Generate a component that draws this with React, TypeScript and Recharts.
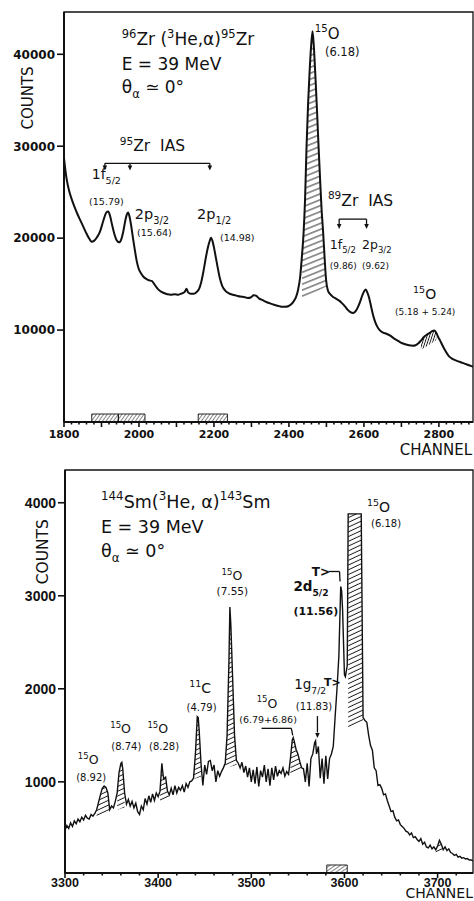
import React from 'react';
import {
  ComposedChart,
  Line,
  Area,
  XAxis,
  YAxis,
  ReferenceArea,
  ReferenceLine,
  ReferenceDot,
} from 'recharts';

const FONT = '"DejaVu Sans", "Liberation Sans", sans-serif';
const FONT_TALL = '"Liberation Sans", "DejaVu Sans", sans-serif';
const INK = '#111';

// ---------------- Top panel: 96Zr(3He,α)95Zr ----------------
// [channel, counts]
const zrSpectrum: [number, number][] = [
  [1800, 28700], [1804, 27300], [1808, 26200], [1814, 25100], [1820, 24300],
  [1828, 23400], [1836, 22600], [1844, 21900], [1852, 21200], [1860, 20500],
  [1868, 19900], [1874, 19600], [1880, 19700], [1888, 20100], [1896, 20700],
  [1902, 21500], [1908, 22300], [1913, 22800], [1918, 22900], [1923, 22400],
  [1928, 21500], [1934, 20500], [1940, 19800], [1947, 19550], [1953, 19900],
  [1958, 20700], [1963, 21800], [1967, 22500], [1971, 22800], [1975, 22300],
  [1979, 21400], [1984, 20000], [1989, 18700], [1994, 17500], [1999, 16700],
  [2005, 16200], [2012, 15800], [2020, 15550], [2028, 15400], [2034, 15350],
  [2040, 15050], [2046, 14700], [2052, 14400], [2060, 14150], [2068, 14000],
  [2076, 13900], [2085, 13850], [2095, 13900], [2105, 13850], [2115, 14000],
  [2122, 14150], [2127, 14500], [2131, 14100], [2138, 13950], [2146, 13950],
  [2154, 14150], [2160, 14450], [2166, 15200], [2172, 16400], [2178, 17800],
  [2184, 19000], [2188, 19600], [2192, 20050], [2196, 19700], [2200, 19000],
  [2205, 17900], [2210, 16800], [2216, 15600], [2222, 14800], [2230, 14300],
  [2240, 14000], [2250, 13850], [2260, 13750], [2270, 13650], [2280, 13600],
  [2290, 13500], [2298, 13550], [2306, 13800], [2312, 13750], [2320, 13450],
  [2330, 13250], [2340, 13050], [2350, 12900], [2360, 12750], [2370, 12650],
  [2380, 12550], [2390, 12550], [2398, 12600], [2406, 12800], [2412, 13100],
  [2418, 13500], [2424, 14300], [2430, 15800], [2435, 18200], [2439, 20500],
  [2443, 24200], [2447, 30000], [2451, 34500], [2455, 38000], [2459, 40800],
  [2463, 42500], [2467, 40500], [2471, 37300], [2475, 33800], [2479, 30000],
  [2483, 26500], [2487, 23200], [2491, 20800], [2495, 18000], [2499, 15500],
  [2504, 14300], [2510, 13900], [2518, 13600], [2526, 13400], [2534, 13200],
  [2542, 12900], [2550, 12550], [2557, 12200], [2564, 11950], [2571, 11850],
  [2578, 12050], [2584, 12500], [2590, 13100], [2596, 13800], [2601, 14250],
  [2605, 14400], [2609, 14100], [2614, 13500], [2619, 12600], [2624, 11700],
  [2630, 10900], [2636, 10350], [2642, 10000], [2650, 9750], [2660, 9600],
  [2670, 9400], [2680, 9100], [2690, 8850], [2700, 8600], [2710, 8450],
  [2720, 8350], [2730, 8300], [2738, 8350], [2745, 8550], [2752, 8850],
  [2760, 9250], [2768, 9500], [2776, 9700], [2783, 9900], [2788, 9950],
  [2793, 9700], [2798, 9250], [2804, 8800], [2810, 8300], [2818, 7700],
  [2826, 7200], [2835, 6900], [2845, 6700], [2855, 6550], [2865, 6400],
  [2875, 6250], [2885, 6100], [2891, 6000],
];

// hatched regions: [channel, lower edge]
const zrHatchO618: [number, number][] = [
  [2435, 13450], [2439, 13530], [2443, 13610], [2447, 13690], [2451, 13760],
  [2455, 13840], [2459, 13920], [2463, 13990], [2467, 14070], [2471, 14150],
  [2475, 14230], [2479, 14300], [2483, 14380], [2487, 14460], [2491, 14540],
  [2495, 14620], [2499, 14700],
];
const zrHatchO518: [number, number][] = [
  [2752, 7850], [2760, 8050], [2768, 8250], [2776, 8450], [2783, 8650],
  [2788, 8780], [2793, 8900],
];
// hatched boxes on the axis: [from, to]
const zrAxisBoxes: [number, number][] = [[1874, 1945], [1945, 2016], [2158, 2236]];

const zrXLabels = [1800, 2000, 2200, 2400, 2600, 2800];
const zrYLabels = [10000, 20000, 30000, 40000];

// ---------------- Bottom panel: 144Sm(3He,α)143Sm ----------------
const smSpectrum: [number, number][] = [
  [3300, 480], [3302, 530], [3304, 500], [3306, 560], [3308, 520], [3310, 580],
  [3312, 550], [3314, 600], [3316, 570], [3318, 620], [3320, 590], [3322, 640],
  [3324, 610], [3326, 600], [3328, 650], [3330, 630], [3332, 660], [3334, 700],
  [3336, 780], [3338, 860], [3340, 930], [3342, 955], [3344, 940], [3346, 880],
  [3348, 700], [3350, 740], [3352, 720], [3354, 790], [3356, 880], [3358, 1100],
  [3360, 1200], [3361, 1210], [3362, 1140], [3364, 880], [3366, 760], [3368, 810],
  [3370, 740], [3372, 790], [3374, 720], [3376, 770], [3378, 680], [3380, 650],
  [3382, 740], [3384, 700], [3386, 820], [3388, 760], [3390, 850], [3392, 780],
  [3394, 870], [3396, 800], [3398, 880], [3400, 840], [3402, 900], [3404, 1200],
  [3405, 1100], [3406, 1030], [3408, 1050], [3410, 900], [3412, 860], [3414, 930],
  [3416, 860], [3418, 960], [3420, 880], [3422, 940], [3424, 910], [3426, 960],
  [3428, 890], [3430, 980], [3432, 940], [3434, 1000], [3436, 1010], [3438, 1040],
  [3440, 1300], [3442, 1700], [3443, 1690], [3444, 1560], [3446, 1200], [3448, 960],
  [3450, 1180], [3452, 1080], [3454, 1220], [3456, 1230], [3458, 1120], [3460, 1180],
  [3462, 1000], [3464, 1120], [3466, 1060], [3468, 1110], [3470, 1150], [3472, 1200],
  [3474, 1500], [3476, 2300], [3477, 2880], [3478, 2700], [3480, 2100], [3482, 1500],
  [3484, 1230], [3486, 1200], [3488, 1150], [3490, 1210], [3492, 1100], [3494, 1170],
  [3496, 1050], [3498, 1150], [3500, 1000], [3502, 1130], [3504, 980], [3506, 1160],
  [3508, 950], [3510, 1120], [3512, 1050], [3514, 1180], [3516, 1000], [3518, 1140],
  [3520, 960], [3522, 1150], [3524, 1020], [3526, 1170], [3528, 1060], [3530, 1120],
  [3532, 1090], [3534, 1150], [3536, 1060], [3538, 1110], [3540, 1080], [3542, 1250],
  [3544, 1450], [3545, 1475], [3546, 1440], [3548, 1350], [3550, 1300], [3552, 1220],
  [3554, 1150], [3556, 1140], [3558, 1000], [3560, 1200], [3562, 950], [3564, 1250],
  [3566, 1300], [3568, 1420], [3569, 1440], [3570, 1300], [3572, 1380], [3574, 1040],
  [3576, 1250], [3578, 980], [3580, 1280], [3582, 1030], [3584, 1250], [3586, 1300],
  [3588, 1380], [3590, 1700], [3592, 2000], [3594, 2350], [3596, 3100], [3597, 3050],
  [3598, 2850], [3600, 2150], [3601, 2130], [3603, 2250], [3604, 3880], [3606, 3880],
  [3608, 3880], [3610, 3880], [3612, 3880], [3614, 3880], [3616, 3880], [3618, 3880],
  [3620, 1690], [3622, 1660], [3624, 1640], [3626, 1500], [3628, 1390], [3630, 1340],
  [3632, 1150], [3634, 1120], [3636, 960], [3638, 970], [3640, 930], [3642, 860],
  [3644, 870], [3646, 800], [3648, 740], [3650, 680], [3652, 690], [3654, 620],
  [3656, 580], [3658, 590], [3660, 540], [3662, 520], [3664, 500], [3666, 470],
  [3668, 460], [3670, 430], [3672, 450], [3674, 400], [3676, 410], [3678, 380],
  [3680, 360], [3682, 390], [3684, 330], [3686, 350], [3688, 300], [3690, 290],
  [3692, 320], [3694, 280], [3696, 300], [3698, 270], [3700, 310], [3702, 370],
  [3704, 330], [3706, 270], [3708, 300], [3710, 260], [3712, 280], [3714, 240],
  [3716, 230], [3718, 210], [3720, 220], [3722, 190], [3724, 200], [3726, 180],
  [3728, 185], [3730, 170], [3732, 175], [3734, 160], [3736, 160], [3738, 150],
];

const smHatch892: [number, number][] = [
  [3334, 620], [3336, 628], [3338, 636], [3340, 644], [3342, 651], [3344, 658],
  [3346, 664], [3348, 671],
];
const smHatch874: [number, number][] = [
  [3356, 700], [3358, 706], [3360, 713], [3361, 716], [3362, 719], [3364, 725],
];
const smHatch828: [number, number][] = [
  [3402, 783], [3404, 793], [3405, 797], [3406, 802], [3408, 812], [3410, 822],
  [3412, 832],
];
const smHatch479: [number, number][] = [
  [3438, 1028], [3440, 1035], [3442, 1042], [3443, 1045], [3444, 1049], [3446, 1056],
];
const smHatch755: [number, number][] = [
  [3472, 1150], [3474, 1155], [3476, 1160], [3477, 1162], [3478, 1165], [3480, 1170],
  [3482, 1175], [3484, 1180],
];
const smHatch679: [number, number][] = [
  [3542, 1063], [3544, 1073], [3545, 1078], [3546, 1083], [3548, 1093], [3550, 1103],
  [3552, 1114], [3554, 1124], [3556, 1135],
];
const smHatch618: [number, number][] = [
  [3604, 1560], [3606, 1572], [3608, 1584], [3610, 1596], [3612, 1608], [3614, 1620],
  [3616, 1632], [3618, 1644], [3620, 1656],
];
const smHatch3702: [number, number][] = [
  [3698, 235], [3700, 242], [3702, 250], [3704, 256], [3706, 262],
];
const smAxisBoxes: [number, number][] = [[3581, 3603]];

const smXLabels = [3300, 3400, 3500, 3600, 3700];
const smYLabels = [1000, 2000, 3000, 4000];

// ---------------- annotations ----------------
type Seg = [string, 'n' | 'sup' | 'sub'];
interface Note { x: number; y: number; fs: number; segs: Seg[]; bold?: boolean }

const zrNotes: Note[] = [
  { x: 1954, y: 41030, fs: 17, segs: [['96', 'sup'], ['Zr (', 'n'], ['3', 'sup'], ['He,α)', 'n'], ['95', 'sup'], ['Zr', 'n']] },
  { x: 1954, y: 38320, fs: 17, segs: [['E = 39 MeV', 'n']] },
  { x: 1954, y: 35785, fs: 17, segs: [['θ', 'n'], ['α', 'sub'], [' ≃ 0°', 'n']] },
  { x: 1949, y: 29470, fs: 15.5, segs: [['95', 'sup'], ['Zr  IAS', 'n']] },
  { x: 1874, y: 26430, fs: 14, segs: [['1f', 'n'], ['5/2', 'sub']] },
  { x: 1867, y: 23620, fs: 9.5, segs: [['(15.79)', 'n']] },
  { x: 1989, y: 22070, fs: 14.5, segs: [['2p', 'n'], ['3/2', 'sub']] },
  { x: 1995, y: 20260, fs: 9.5, segs: [['(15.64)', 'n']] },
  { x: 2155, y: 22070, fs: 14.5, segs: [['2p', 'n'], ['1/2', 'sub']] },
  { x: 2216, y: 19720, fs: 9.5, segs: [['(14.98)', 'n']] },
  { x: 2469, y: 41710, fs: 15, segs: [['15', 'sup'], ['O', 'n']] },
  { x: 2496, y: 39760, fs: 11.5, segs: [['(6.18)', 'n']] },
  { x: 2504, y: 23510, fs: 15.5, segs: [['89', 'sup'], ['Zr  IAS', 'n']] },
  { x: 2509, y: 18850, fs: 12.5, segs: [['1f', 'n'], ['5/2', 'sub']] },
  { x: 2595, y: 18850, fs: 12.5, segs: [['2p', 'n'], ['3/2', 'sub']] },
  { x: 2509, y: 16680, fs: 9, segs: [['(9.86)', 'n']] },
  { x: 2595, y: 16680, fs: 9, segs: [['(9.62)', 'n']] },
  { x: 2731, y: 13430, fs: 14, segs: [['15', 'sup'], ['O', 'n']] },
  { x: 2683, y: 11590, fs: 9, segs: [['(5.18 + 5.24)', 'n']] },
];
const zrLines: [number, number][][] = [
  [[1909, 28140], [2189, 28140]],
  [[1909, 28140], [1909, 27700]],
  [[1976, 28140], [1976, 27700]],
  [[2189, 28140], [2189, 27700]],
  [[2534, 22070], [2607, 22070]],
  [[2534, 22070], [2534, 21400]],
  [[2607, 22070], [2607, 21400]],
];
const zrArrows: [number, number][] = [[1909, 27350], [1976, 27350], [2189, 27350], [2534, 20990], [2607, 20990]];

const smNotes: Note[] = [
  { x: 3338.6, y: 3947, fs: 17.5, segs: [['144', 'sup'], ['Sm', 'n'], ['(', 'n'], ['3', 'sup'], ['He, α)', 'n'], ['143', 'sup'], ['Sm', 'n']] },
  { x: 3338.6, y: 3679, fs: 17.5, segs: [['E = 39 MeV', 'n']] },
  { x: 3338.6, y: 3422, fs: 17.5, segs: [['θ', 'n'], ['α', 'sub'], [' ≃ 0°', 'n']] },
  { x: 3313.8, y: 1189, fs: 12.5, segs: [['15', 'sup'], ['O', 'n']] },
  { x: 3312, y: 1010, fs: 10, segs: [['(8.92)', 'n']] },
  { x: 3348.6, y: 1521, fs: 12.5, segs: [['15', 'sup'], ['O', 'n']] },
  { x: 3349.7, y: 1339, fs: 10, segs: [['(8.74)', 'n']] },
  { x: 3388.5, y: 1521, fs: 12.5, segs: [['15', 'sup'], ['O', 'n']] },
  { x: 3390.2, y: 1339, fs: 10, segs: [['(8.28)', 'n']] },
  { x: 3433.3, y: 1957, fs: 14, segs: [['11', 'sup'], ['C', 'n']] },
  { x: 3430.5, y: 1760, fs: 10, segs: [['(4.79)', 'n']] },
  { x: 3468.1, y: 3172, fs: 12.5, segs: [['15', 'sup'], ['O', 'n']] },
  { x: 3462.7, y: 3011, fs: 10.5, segs: [['(7.55)', 'n']] },
  { x: 3505.8, y: 1797, fs: 12.5, segs: [['15', 'sup'], ['O', 'n']] },
  { x: 3487, y: 1636, fs: 9.5, segs: [['(6.79+6.86)', 'n']] },
  { x: 3546, y: 1993, fs: 13.5, segs: [['1g', 'n'], ['7/2', 'sub']] },
  { x: 3578, y: 2028, fs: 11, bold: true, segs: [['T>', 'n']] },
  { x: 3547.8, y: 1768, fs: 10, segs: [['(11.83)', 'n']] },
  { x: 3565, y: 3215, fs: 12, bold: true, segs: [['T>', 'n']] },
  { x: 3545.2, y: 3047, fs: 13.5, bold: true, segs: [['2d', 'n'], ['5/2', 'sub']] },
  { x: 3545.2, y: 2797, fs: 11, bold: true, segs: [['(11.56)', 'n']] },
  { x: 3624.2, y: 3904, fs: 14, segs: [['15', 'sup'], ['O', 'n']] },
  { x: 3628.5, y: 3743, fs: 10, segs: [['(6.18)', 'n']] },
];
const smLines: [number, number][][] = [
  [[3511, 1575], [3543, 1575], [3544.5, 1500]],
  [[3583, 3261], [3594.7, 3261], [3595.3, 3154]],
  [[3571, 1707], [3571, 1530]],
];
const smArrows: [number, number][] = [[3571, 1470]];

// ---------------- helpers ----------------
const hatchRows = (spec: [number, number][], lows: [number, number][]) => {
  const m = new Map(spec);
  return lows.map(([ch, lo]) => ({ ch, range: [lo, m.get(ch) as number] }));
};
const toRows = (spec: [number, number][]) => spec.map(([ch, c]) => ({ ch, c }));

const rich = (segs: Seg[], fs: number) => {
  let cur = 0;
  return segs.map(([t, k], i) => {
    const target = k === 'sup' ? -0.42 * fs : k === 'sub' ? 0.32 * fs : 0;
    const dy = target - cur;
    cur = target;
    return (
      <tspan key={i} dy={dy} fontSize={k === 'n' ? fs : fs * 0.68}>
        {t}
      </tspan>
    );
  });
};

const renderNotes = (notes: Note[], prefix: string) =>
  notes.map((n, i) => (
    <ReferenceDot
      key={`${prefix}n${i}`}
      x={n.x}
      y={n.y}
      r={0}
      ifOverflow="visible"
      shape={(p: any) => (
        <text
          x={p.cx}
          y={p.cy}
          fontFamily={FONT}
          fontSize={n.fs}
          fontWeight={n.bold ? 'bold' : 'normal'}
          fill={INK}
          style={{ whiteSpace: 'pre' }}
        >
          {rich(n.segs, n.fs)}
        </text>
      )}
    />
  ));

const renderLines = (lines: [number, number][][], prefix: string) =>
  lines.flatMap((pl, i) =>
    pl.slice(1).map((pt, j) => (
      <ReferenceLine
        key={`${prefix}l${i}-${j}`}
        segment={[
          { x: pl[j][0], y: pl[j][1] },
          { x: pt[0], y: pt[1] },
        ]}
        stroke={INK}
        strokeWidth={1.3}
        ifOverflow="visible"
      />
    ))
  );

const renderArrows = (arrows: [number, number][], prefix: string) =>
  arrows.map(([x, y], i) => (
    <ReferenceDot
      key={`${prefix}a${i}`}
      x={x}
      y={y}
      r={0}
      ifOverflow="visible"
      shape={(p: any) => (
        <path d={`M${p.cx - 2.3},${p.cy - 5} L${p.cx + 2.3},${p.cy - 5} L${p.cx},${p.cy} Z`} fill={INK} />
      )}
    />
  ));

const makeXTick = (labels: number[], major: number, fs: number, labelDy: number, family: string) => (p: any) => {
  const v = p.payload.value as number;
  const isMajor = v % major === 0;
  return (
    <g>
      <line x1={p.x} x2={p.x} y1={p.y} y2={p.y + (isMajor ? 5 : 2.5)} stroke={INK} strokeWidth={1.6} />
      {labels.includes(v) && (
        <text x={p.x} y={p.y + labelDy} textAnchor="middle" fontFamily={family} fontWeight="bold" fontSize={fs} fill={INK}>
          {v}
        </text>
      )}
    </g>
  );
};

const makeYTick = (fs: number, family: string) => (p: any) => {
  const v = p.payload.value as number;
  return (
    <g>
      <line x1={p.x - 7} x2={p.x} y1={p.y} y2={p.y} stroke={INK} strokeWidth={1.6} />
      <text x={p.x - 9} y={p.y} dy="0.36em" textAnchor="end" fontFamily={family} fontWeight="bold" fontSize={fs} fill={INK}>
        {v}
      </text>
    </g>
  );
};

const zrData = toRows(zrSpectrum);
const smData = toRows(smSpectrum);
const ZR_X: [number, number] = [1800, 2891];
const ZR_Y: [number, number] = [0, 44600];
const SM_X: [number, number] = [3300, 3738];
const SM_Y: [number, number] = [20, 4352];
const zrMinor = Array.from({ length: 55 }, (_, i) => 1800 + 20 * i);
const smMinor = Array.from({ length: 22 }, (_, i) => 3300 + 20 * i);

const axisStyle = { stroke: INK, strokeWidth: 2 };

function TopChart() {
  return (
    <ComposedChart width={474} height={450} margin={{ top: 12, right: 1, bottom: 0, left: 0 }}>
      <defs>
        <pattern id="zrHatchA" patternUnits="userSpaceOnUse" width="12" height="5.5" patternTransform="rotate(-22)">
          <line x1="0" y1="2.7" x2="12" y2="2.7" stroke={INK} strokeWidth="0.9" />
        </pattern>
        <pattern id="zrHatchB" patternUnits="userSpaceOnUse" width="10" height="2.4" patternTransform="rotate(-72)">
          <line x1="0" y1="1.2" x2="10" y2="1.2" stroke={INK} strokeWidth="0.9" />
        </pattern>
        <pattern id="zrHatchC" patternUnits="userSpaceOnUse" width="10" height="3" patternTransform="rotate(-55)">
          <line x1="0" y1="1.5" x2="10" y2="1.5" stroke={INK} strokeWidth="1" />
        </pattern>
      </defs>
      <XAxis
        type="number"
        dataKey="ch"
        domain={ZR_X}
        allowDataOverflow
        ticks={zrMinor}
        interval={0}
        tick={makeXTick(zrXLabels, 100, 11, 15.8, FONT)}
        tickLine={false}
        tickSize={0}
        tickMargin={0}
        axisLine={axisStyle}
        height={28}
      />
      <YAxis
        type="number"
        domain={ZR_Y}
        allowDataOverflow
        ticks={zrYLabels}
        interval={0}
        tick={makeYTick(12, FONT)}
        tickLine={false}
        tickSize={0}
        tickMargin={0}
        axisLine={axisStyle}
        width={64}
      />
      <ReferenceArea x1={ZR_X[0]} x2={ZR_X[1]} y1={ZR_Y[0]} y2={ZR_Y[1]} fill="none" stroke={INK} strokeWidth={1.3} />
      {zrAxisBoxes.map(([a, b], i) => (
        <ReferenceArea key={`zb${i}`} x1={a} x2={b} y1={0} y2={870} fill="url(#zrHatchC)" stroke={INK} strokeWidth={0.9} />
      ))}
      <Area data={hatchRows(zrSpectrum, zrHatchO618)} dataKey="range" type="monotone" stroke="none" fill="url(#zrHatchA)" fillOpacity={1} isAnimationActive={false} dot={false} activeDot={false} />
      <Area data={hatchRows(zrSpectrum, zrHatchO518)} dataKey="range" type="monotone" stroke="none" fill="url(#zrHatchB)" fillOpacity={1} isAnimationActive={false} dot={false} activeDot={false} />
      <Line data={zrData} dataKey="c" type="monotone" stroke={INK} strokeWidth={2} dot={false} activeDot={false} isAnimationActive={false} />
      {renderLines(zrLines, 'z')}
      {renderArrows(zrArrows, 'z')}
      {renderNotes(zrNotes, 'z')}
    </ComposedChart>
  );
}

function BottomChart() {
  return (
    <ComposedChart width={474} height={451} margin={{ top: 20, right: 1, bottom: 0, left: 0 }}>
      <defs>
        <pattern id="smHatchA" patternUnits="userSpaceOnUse" width="12" height="4.3" patternTransform="rotate(-25)">
          <line x1="0" y1="2.1" x2="12" y2="2.1" stroke={INK} strokeWidth="0.9" />
        </pattern>
        <pattern id="smHatchC" patternUnits="userSpaceOnUse" width="10" height="3" patternTransform="rotate(-35)">
          <line x1="0" y1="1.5" x2="10" y2="1.5" stroke={INK} strokeWidth="1" />
        </pattern>
      </defs>
      <XAxis
        type="number"
        dataKey="ch"
        domain={SM_X}
        allowDataOverflow
        ticks={smMinor}
        interval={0}
        tick={makeXTick(smXLabels, 100, 12.5, 13.8, FONT_TALL)}
        tickLine={false}
        tickSize={0}
        tickMargin={0}
        axisLine={axisStyle}
        height={28}
      />
      <YAxis
        type="number"
        domain={SM_Y}
        allowDataOverflow
        ticks={smYLabels}
        interval={0}
        tick={makeYTick(14, FONT_TALL)}
        tickLine={false}
        tickSize={0}
        tickMargin={0}
        axisLine={axisStyle}
        width={65}
      />
      <ReferenceArea x1={SM_X[0]} x2={SM_X[1]} y1={SM_Y[0]} y2={SM_Y[1]} fill="none" stroke={INK} strokeWidth={1.3} />
      {smAxisBoxes.map(([a, b], i) => (
        <ReferenceArea key={`sb${i}`} x1={a} x2={b} y1={20} y2={106} fill="url(#smHatchC)" stroke={INK} strokeWidth={0.9} />
      ))}
      {[smHatch892, smHatch874, smHatch828, smHatch479, smHatch755, smHatch679, smHatch618, smHatch3702].map((h, i) => (
        <Area key={`sh${i}`} data={hatchRows(smSpectrum, h)} dataKey="range" type="linear" stroke="none" fill="url(#smHatchA)" fillOpacity={1} isAnimationActive={false} dot={false} activeDot={false} />
      ))}
      <Line data={smData} dataKey="c" type="linear" stroke={INK} strokeWidth={1.4} dot={false} activeDot={false} isAnimationActive={false} />
      {renderLines(smLines, 's')}
      {renderArrows(smArrows, 's')}
      {renderNotes(smNotes, 's')}
    </ComposedChart>
  );
}

export default function App() {
  return (
    <div style={{ position: 'absolute', left: 0, top: 0, width: 474, height: 901, background: '#fff', overflow: 'hidden' }}>
      <div style={{ position: 'absolute', left: 0, top: 0 }}>
        <TopChart />
      </div>
      <div style={{ position: 'absolute', left: 0, top: 450 }}>
        <BottomChart />
      </div>
      <svg width={474} height={901} style={{ position: 'absolute', left: 0, top: 0, pointerEvents: 'none' }}>
        <text x={27.5} y={98} transform="rotate(-90 27.5 98)" textAnchor="middle" dominantBaseline="central" fontFamily={FONT} fontSize={15} fill={INK}>
          COUNTS
        </text>
        <text x={472} y={455} textAnchor="end" fontFamily={FONT} fontSize={15} fill={INK}>
          CHANNEL
        </text>
        <text x={43.5} y={551.7} transform="rotate(-90 43.5 551.7)" textAnchor="middle" dominantBaseline="central" fontFamily={FONT} fontSize={15.5} fill={INK}>
          COUNTS
        </text>
        <text x={473} y={897.5} textAnchor="end" fontFamily={FONT} fontSize={14} fill={INK}>
          CHANNEL
        </text>
      </svg>
    </div>
  );
}
